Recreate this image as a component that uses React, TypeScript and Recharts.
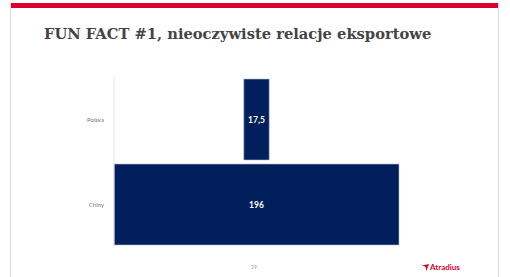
import React from 'react';
import { BarChart, Bar, XAxis, YAxis, LabelList } from 'recharts';

const categories = ['Polska', 'Chiny'];
const values = [17.5, 196];
const offsets = [89.25, 0];

const data = categories.map((c, i) => ({ name: c, offset: offsets[i], value: values[i] }));

const fmt = (v: any) => String(v).replace('.', ',');

export default function App() {
  return (
    <div style={{ position: 'absolute', left: 0, top: 0, width: 510, height: 277, background: '#fff', overflow: 'hidden' }}>
      <div style={{ position: 'absolute', left: 10, top: 3, width: 488, height: 5, background: '#d9002b' }} />
      <div style={{ position: 'absolute', left: 10, top: 3, width: 1, height: 274, background: '#dcdcdc' }} />
      <div style={{ position: 'absolute', left: 498, top: 3, width: 1, height: 274, background: '#dcdcdc' }} />
      <div style={{ position: 'absolute', left: 44, top: 25, fontFamily: '"DejaVu Serif", serif', fontWeight: 'bold', fontSize: 14.7, color: '#444', whiteSpace: 'nowrap' }}>
        FUN FACT #1, nieoczywiste relacje eksportowe
      </div>
      <div style={{ position: 'absolute', left: 0, top: 0 }}>
        <BarChart
          width={510}
          height={277}
          data={data}
          layout="vertical"
          margin={{ top: 77, right: 111, bottom: 30, left: 0 }}
          barCategoryGap={2}
        >
          <XAxis type="number" domain={[0, 196]} hide />
          <YAxis
            type="category"
            dataKey="name"
            width={114}
            axisLine={{ stroke: '#e6e6e6' }}
            tickLine={false}
            tick={{ fontSize: 6, fill: '#777', fontFamily: 'Lato, sans-serif' }}
            tickMargin={4}
          />
          <Bar dataKey="offset" stackId="a" fill="transparent" isAnimationActive={false} />
          <Bar dataKey="value" stackId="a" fill="#001f5b" stroke="#b8c2d8" strokeWidth={0.6} isAnimationActive={false}>
            <LabelList dataKey="value" position="center" formatter={fmt} fill="#fff" fontSize={8.5} fontWeight="bold" fontFamily="Lato, sans-serif" />
          </Bar>
        </BarChart>
      </div>
      <div style={{ position: 'absolute', left: 251, top: 264, fontSize: 5, color: '#999', fontFamily: 'Lato, sans-serif' }}>29</div>
      <div style={{ position: 'absolute', left: 422, top: 262, display: 'flex', alignItems: 'center', color: '#d9002b', fontFamily: 'Lato, sans-serif', fontWeight: 'bold', fontSize: 8 }}>
        <svg width="7" height="7" viewBox="0 0 10 10" style={{ marginRight: 1 }}>
          <polygon points="0,2 10,0 6,10 5,4" fill="#d9002b" />
        </svg>
        <span>Atradius</span>
      </div>
    </div>
  );
}
